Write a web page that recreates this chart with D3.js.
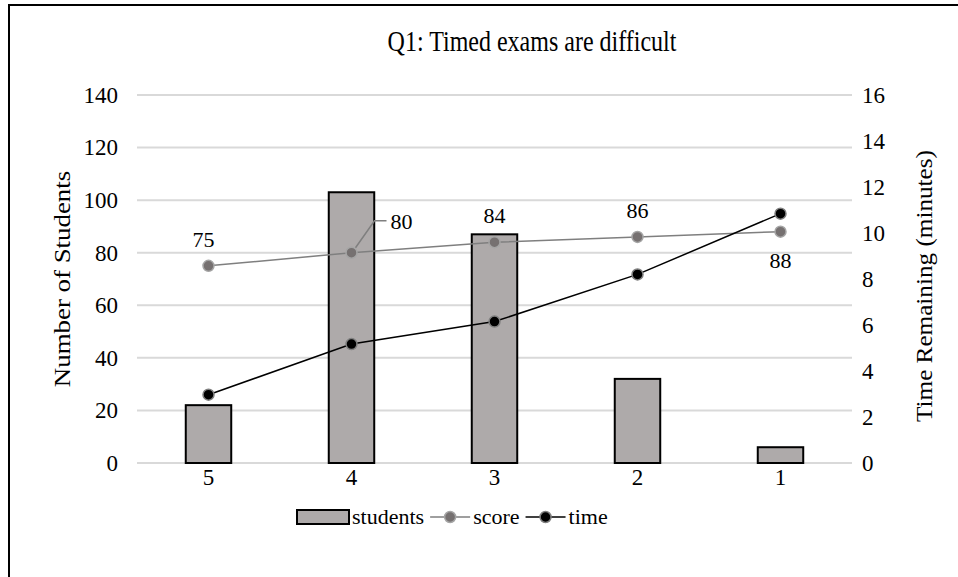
<!DOCTYPE html>
<html>
<head>
<meta charset="utf-8">
<script src="https://cdn.jsdelivr.net/npm/d3@7"></script>
<style>
  body { margin: 0; background: #fff; }
  svg text { font-family: "Liberation Serif", "Times New Roman", serif; fill: #000; }
</style>
</head>
<body>
<div id="chart"></div>
<script>
// data
const categories = ["5", "4", "3", "2", "1"];
const students = [22, 103, 87, 32, 6];
const score = [75, 80, 84, 86, 88];
const time = [2.97, 5.17, 6.15, 8.2, 10.84];
const leftTicks = [0, 20, 40, 60, 80, 100, 120, 140];
const rightTicks = [0, 2, 4, 6, 8, 10, 12, 14, 16];
// where each score label sits relative to its point
const scoreLabelPos = ["above", "right", "above", "above", "below"];

const W = 958, H = 577;
const plot = { left: 137, right: 852, top: 95, bottom: 463 };

var svg = d3.select("#chart").append("svg")
    .attr("width", W)
    .attr("height", H);

// outer chart border (cropped on the right and bottom)
svg.append("rect")
    .attr("x", 9).attr("y", 5)
    .attr("width", W).attr("height", H)
    .attr("fill", "none")
    .attr("stroke", "#000")
    .attr("stroke-width", 2);

// title is drawn a bit taller than wide, like the reference
svg.append("text")
    .attr("transform", "translate(532,51) scale(1,1.25)")
    .attr("text-anchor", "middle")
    .style("font-size", "24px")
    .text("Q1: Timed exams are difficult");

var xScale = d3.scaleBand().domain(categories).range([plot.left, plot.right]).padding(0),
    yLeft = d3.scaleLinear().domain([0, 140]).range([plot.bottom, plot.top]),
    yRight = d3.scaleLinear().domain([0, 16]).range([plot.bottom, plot.top]);
const cx = c => xScale(c) + xScale.bandwidth() / 2;

// gridlines
svg.append("g")
    .selectAll("line")
    .data(leftTicks)
    .enter().append("line")
    .attr("x1", plot.left).attr("x2", plot.right)
    .attr("y1", d => yLeft(d)).attr("y2", d => yLeft(d))
    .attr("stroke", "#d9d9d9")
    .attr("stroke-width", 2);

// axes
var gl = svg.append("g")
    .attr("transform", "translate(" + plot.left + ",0)")
    .call(d3.axisLeft(yLeft).tickValues(leftTicks).tickSize(0).tickPadding(19));
var gr = svg.append("g")
    .attr("transform", "translate(" + plot.right + ",0)")
    .call(d3.axisRight(yRight).tickValues(rightTicks).tickSize(0).tickPadding(10));
var gb = svg.append("g")
    .attr("transform", "translate(0," + plot.bottom + ")")
    .call(d3.axisBottom(xScale).tickSize(0).tickPadding(6));
[gl, gr, gb].forEach(g => {
    g.select(".domain").remove();
    g.selectAll("text").style("font-size", "23px");
});

svg.append("text")
    .attr("transform", "translate(70,279) rotate(-90) scale(1.12,1)")
    .attr("text-anchor", "middle")
    .style("font-size", "24px")
    .text("Number of Students");

svg.append("text")
    .attr("transform", "translate(932,286) rotate(-90) scale(1.05,1)")
    .attr("text-anchor", "middle")
    .style("font-size", "24px")
    .text("Time Remaining (minutes)");

// bars
const barW = xScale.bandwidth() * 0.318;
svg.selectAll(".bar")
    .data(students)
    .enter().append("rect")
    .attr("class", "bar")
    .attr("x", (d, i) => cx(categories[i]) - barW / 2)
    .attr("y", d => yLeft(d))
    .attr("width", barW)
    .attr("height", d => plot.bottom - yLeft(d))
    .attr("fill", "#aeaaaa")
    .attr("stroke", "#000")
    .attr("stroke-width", 2);

// score line (left axis)
var scoreLine = d3.line().x((d, i) => cx(categories[i])).y(d => yLeft(d));
svg.append("path")
    .datum(score)
    .attr("d", scoreLine)
    .attr("fill", "none")
    .attr("stroke", "#7f7f7f")
    .attr("stroke-width", 1.5);

// time line (right axis)
var timeLine = d3.line().x((d, i) => cx(categories[i])).y(d => yRight(d));
svg.append("path")
    .datum(time)
    .attr("d", timeLine)
    .attr("fill", "none")
    .attr("stroke", "#000")
    .attr("stroke-width", 1.5);

// leader line for the "80" label
const li = scoreLabelPos.indexOf("right");
svg.append("polyline")
    .attr("points", [
        [cx(categories[li]) + 4, yLeft(score[li]) - 5],
        [cx(categories[li]) + 23, yLeft(score[li]) - 32],
        [cx(categories[li]) + 35, yLeft(score[li]) - 32]
    ].join(" "))
    .attr("fill", "none")
    .attr("stroke", "#7f7f7f")
    .attr("stroke-width", 1.5);

svg.selectAll(".score-dot")
    .data(score)
    .enter().append("circle")
    .attr("class", "score-dot")
    .attr("cx", (d, i) => cx(categories[i]))
    .attr("cy", d => yLeft(d))
    .attr("r", 5.5)
    .attr("fill", "#767171")
    .attr("stroke", "#a5a5a5")
    .attr("stroke-width", 1.5);

svg.selectAll(".time-dot")
    .data(time)
    .enter().append("circle")
    .attr("class", "time-dot")
    .attr("cx", (d, i) => cx(categories[i]))
    .attr("cy", d => yRight(d))
    .attr("r", 5.5)
    .attr("fill", "#000")
    .attr("stroke", "#7f7f7f")
    .attr("stroke-width", 1.5);

// score labels
svg.selectAll(".score-label")
    .data(score)
    .enter().append("text")
    .attr("class", "score-label")
    .style("font-size", "22px")
    .attr("text-anchor", (d, i) => scoreLabelPos[i] === "right" ? "start" : "middle")
    .attr("x", (d, i) => cx(categories[i]) + (scoreLabelPos[i] === "right" ? 39 : -5 * (i === 0)))
    .attr("y", (d, i) => {
        const y = yLeft(d);
        if (scoreLabelPos[i] === "above") return y - 19;
        if (scoreLabelPos[i] === "below") return y + 36;
        return y - 24;
    })
    .text(d => d);

// legend, laid out left to right
const lg = svg.append("g").attr("transform", "translate(0,517)");
let lx = 297;
lg.append("rect")
    .attr("x", lx).attr("y", -7)
    .attr("width", 52).attr("height", 14)
    .attr("fill", "#aeaaaa")
    .attr("stroke", "#000")
    .attr("stroke-width", 2);
lx += 55;
const legendItems = [
    { name: "students" },
    { name: "score", line: "#7f7f7f", dot: "#767171", ring: "#a5a5a5" },
    { name: "time", line: "#000", dot: "#000", ring: "#7f7f7f" }
];
legendItems.forEach(item => {
    if (item.line) {
        lg.append("line").attr("x1", lx).attr("x2", lx + 40).attr("y1", 0).attr("y2", 0)
            .attr("stroke", item.line).attr("stroke-width", 1.5);
        lg.append("circle").attr("cx", lx + 20).attr("cy", 0).attr("r", 5.5)
            .attr("fill", item.dot).attr("stroke", item.ring).attr("stroke-width", 1.5);
        lx += 43;
    }
    const t = lg.append("text").attr("x", lx).attr("y", 7)
        .style("font-size", "22px").text(item.name);
    lx += t.node().getComputedTextLength() + 6;
});
</script>
</body>
</html>
